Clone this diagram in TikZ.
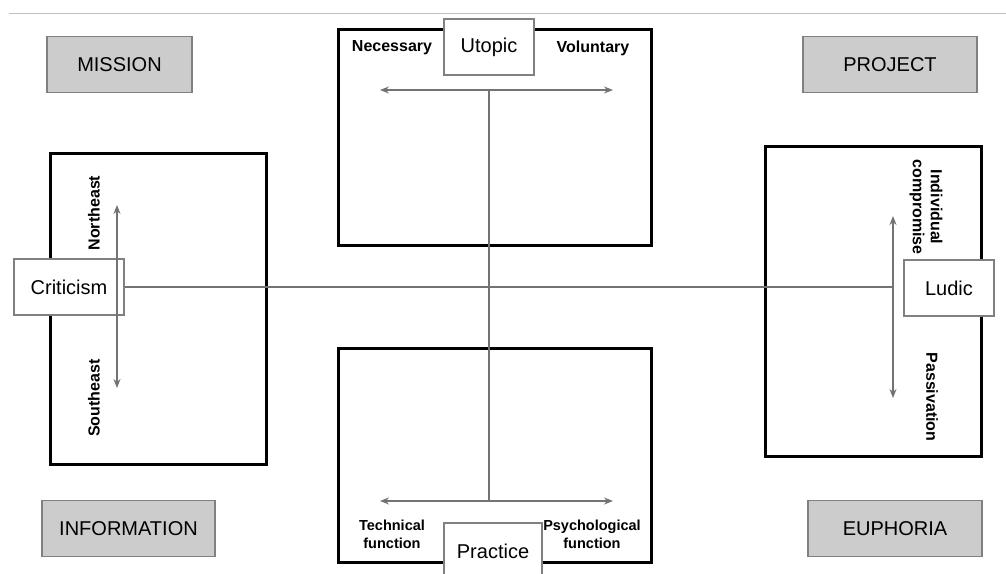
\documentclass[tikz,border=0pt]{standalone}
\usepackage{fontspec}
\setmainfont{Liberation Sans}
\usetikzlibrary{arrows.meta}

\begin{document}
\begin{tikzpicture}[x=1pt, y=-1pt,
	quad/.style = {draw=black, line width=3pt, fill=white, inner sep=0pt},
	corner/.style = {draw=black!50, line width=1.2pt, fill=black!20, inner sep=0pt, minimum height=56pt, font=\fontsize{20}{24}\selectfont},
	pole/.style = {draw=black!50, line width=1.2pt, fill=white, inner sep=0pt, minimum height=56pt, font=\fontsize{20}{24}\selectfont},
	lab/.style = {inner sep=0pt, align=center, font=\bfseries\fontsize{16}{18}\selectfont},
	axis/.style = {draw=black!55, line width=1.2pt},
	twoway/.style = {axis, {Stealth[length=9pt,width=7pt]}-{Stealth[length=9pt,width=7pt]}}]

	\useasboundingbox (0,0) rectangle (1006,573);
	\clip (0,0) rectangle (1006,573);

	\draw [black!25, line width=1pt] (9,13) -- (1006,13);

	% corner boxes
	\node [corner, minimum width=145pt] (mission) at (119.5,64.5) {MISSION};
	\node [corner, minimum width=174pt] (project) at (890,64.5) {PROJECT};
	\node [corner, minimum width=173pt] (information) at (128.5,528.5) {INFORMATION};
	\node [corner, minimum width=174pt] (euphoria) at (895,528.5) {EUPHORIA};

	% the four frames
	\node [quad, anchor=north west, minimum width=313pt, minimum height=216pt] (top) at (337,28) {};
	\node [quad, anchor=north west, minimum width=313pt, minimum height=214pt] (bottom) at (337,347) {};
	\node [quad, anchor=north west, minimum width=216pt, minimum height=311pt] (left) at (49,152) {};
	\node [quad, anchor=north west, minimum width=216pt, minimum height=310pt] (right) at (764,145) {};

	\coordinate (nec) at (380,90);
	\coordinate (vol) at (613,90);
	\coordinate (tec) at (380,501);
	\coordinate (psy) at (613,501);
	\coordinate (ne) at (117,205);
	\coordinate (se) at (117,388);
	\coordinate (ind) at (893,216);
	\coordinate (pas) at (893,398);
	\coordinate (topmid) at (489,90);
	\coordinate (botmid) at (489,501);
	\coordinate (ludmid) at (893,287);

	\draw [axis] (topmid) -- (botmid);

	\node [pole, minimum width=90pt] (utopic) at (489,47) {Utopic};
	\node [pole, minimum width=98pt] (practice) at (493,551) {Practice};
	\node [pole, minimum width=110pt] (criticism) at (69,287) {Criticism};
	\node [pole, minimum width=90pt] (ludic) at (949,288) {Ludic};

	\draw [axis] (criticism.east) -- (ludmid);

	\draw [twoway] (nec) -- (vol);
	\draw [twoway] (tec) -- (psy);
	\draw [twoway] (ne) -- (se);
	\draw [twoway] (ind) -- (pas);

	\node [lab] at (392,48) {Necessary};
	\node [lab] at (593,48) {Voluntary};
	\node [lab, font=\bfseries\fontsize{14.5}{18}\selectfont] at (392,534) {Technical\\function};
	\node [lab, font=\bfseries\fontsize{14.5}{18}\selectfont] at (592,534) {Psychological\\function};
	\node [lab, rotate=90] at (94,213) {Northeast};
	\node [lab, rotate=90] at (94,398) {Southeast};
	\node [lab, rotate=-90] at (926,207) {Individual\\compromise};
	\node [lab, rotate=-90] at (932,397) {Passivation};

\end{tikzpicture}
\end{document}
